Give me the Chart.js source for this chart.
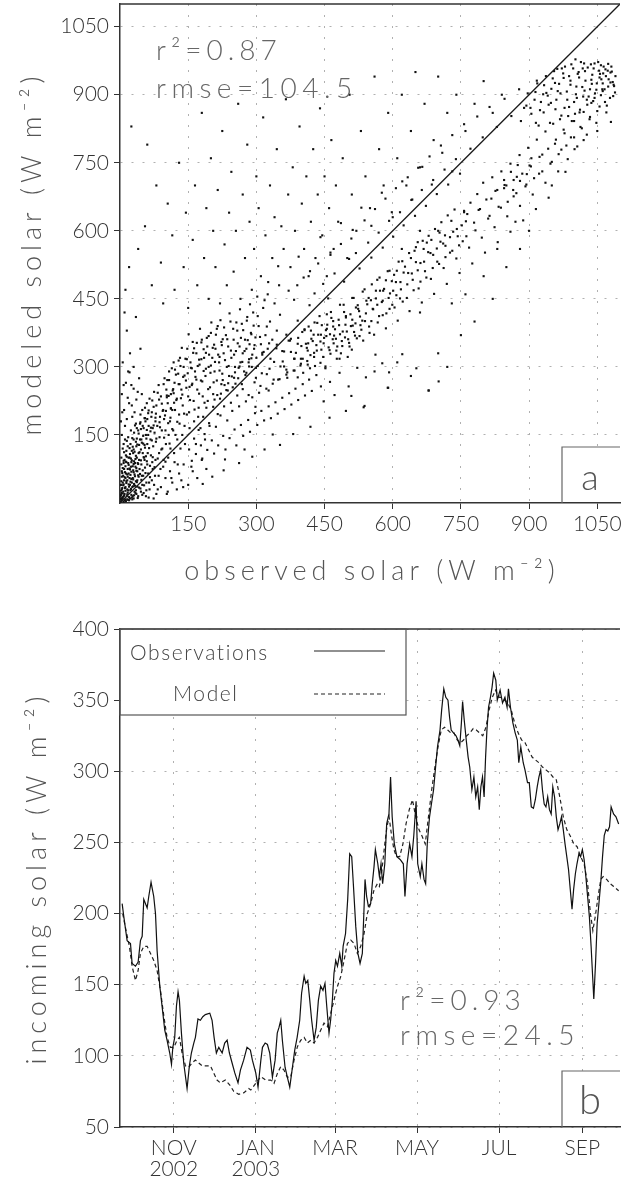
<!DOCTYPE html>
<html>
<head>
<meta charset="utf-8">
<script src="https://cdn.jsdelivr.net/npm/chart.js@4.4.0/dist/chart.umd.min.js"></script>
<style>
    html, body { margin: 0; padding: 0; background: #fff; }
    body { width: 627px; height: 1177px; position: relative; overflow: hidden; }
    #scatterChart { position: absolute; left: 0; top: 0; }
    #seriesChart { position: absolute; left: 0; top: 600px; }
</style>
</head>
<body>
<canvas id="scatterChart" width="627" height="600"></canvas>
<canvas id="seriesChart" width="627" height="577"></canvas>
<script>
// ---- panel a: observed vs modeled solar (W m-2), pairs [observed, modeled] ----
const solarTicks = [150, 300, 450, 600, 750, 900, 1050];
const solarMin = 0;
const solarMax = 1100;
const oneToOne = [0, 1100];

const originCluster = [
    [3,5],[5,12],[8,3],[10,20],[12,8],[4,30],[6,45],[15,15],[18,28],[20,6],[22,40],[25,18],[28,55],[30,10],[7,60],[9,75],
    [14,90],[16,50],[19,65],[24,80],[27,35],[32,25],[35,48],[38,70],[40,15],[42,95],[45,32],[48,60],[50,110],[52,22],[55,78],
    [58,45],[60,130],[3,100],[6,120],[11,140],[13,105],[17,125],[21,100],[26,115],[33,88],[36,125],[44,140],[47,85],[53,100],
    [57,150],[62,65],[65,30],[68,105],[70,50],[2,18],[4,70],[8,88],[12,55],[16,8],[23,62],[29,72],[31,42],[37,100],[41,58],
    [46,118],[49,40],[54,128],[59,92],[63,12],[66,82],[72,75],[75,40],[78,95],[80,20],[85,60],[90,35],[95,80],[100,55],
    [105,25],[110,70],[115,45],[120,90],[125,30],[130,65],[135,50],[140,85],[150,40],[160,70],[170,55],[180,95],[190,75],
    [2,40],[3,85],[4,150],[5,200],[6,10],[7,25],[8,130],[9,50],[10,95],[11,170],[12,35],[13,65],[14,115],[15,185],[16,30],
    [17,75],[18,145],[19,100],[20,220],[21,55],[22,10],[23,130],[24,160],[25,90],[26,45],[27,190],[28,15],[29,110],[30,68],
    [31,155],[32,200],[33,38],[34,80],[35,135],[36,20],[37,165],[38,50],[39,245],[41,110],[43,75],[44,175],[46,25],[47,140],
    [49,205],[51,60],[52,165],[54,95],[56,180],[57,15],[59,220],[61,110],[63,170],[64,45],[67,140],[69,190],[71,90],[73,125],
    [74,10],[76,155],[77,60],[79,135],[82,170],[83,30],[86,110],[87,145],[89,75],[92,160],[93,120],[96,95],[97,185],[101,130],
    [103,20],[106,100],[107,150],[111,120],[113,55],[117,160],[119,110],[121,205],[126,140],[127,85],[131,175],[133,120],
    [137,150],[139,35],[143,130],[147,195],[153,165],[157,80],[163,180],[167,130],[173,210],[177,165],[183,190],[187,140],
    [193,225],[197,170]
];

const denseLowLeft = [
    [1,3],[2,9],[3,22],[4,58],[5,33],[6,77],[7,14],[8,41],[9,112],[10,6],[11,68],[12,27],[13,91],[14,48],[15,137],[16,19],
    [17,58],[18,7],[19,84],[20,36],[21,121],[22,74],[23,28],[24,98],[25,53],[26,12],[27,143],[28,81],[29,37],[30,118],
    [31,92],[32,63],[33,171],[34,22],[35,104],[36,77],[37,46],[38,129],[39,11],[40,86],[41,153],[42,34],[43,112],[44,64],
    [45,178],[46,94],[47,51],[48,133],[49,18],[50,72],[51,148],[52,101],[53,39],[54,187],[55,122],[56,66],[57,103],[58,28],
    [59,161],[60,85],[62,198],[64,121],[66,57],[68,166],[70,138],[72,101],[74,212],[76,79],[78,188],[80,142],[83,98],
    [86,228],[88,167],[91,118],[94,203],[97,144],[100,91],[103,237],[106,176],[109,131],[112,208],[115,163],[118,242],
    [2,180],[4,240],[6,310],[9,205],[13,265],[17,232],[21,288],[26,215],[30,252],[36,228],[42,275],[48,240]
];

const originCore = [
    [1,14],[2,27],[3,48],[4,9],[5,66],[6,21],[7,39],[8,93],[9,16],[10,57],[11,33],[12,81],[13,4],[14,44],[15,102],[16,63],
    [17,23],[18,88],[19,41],[20,13],[21,76],[22,108],[23,47],[24,31],[25,69],[26,94],[27,8],[28,124],[29,52],[30,86],
    [31,17],[32,113],[33,59],[34,97],[35,28],[36,71],[37,142],[38,36],[39,88],[40,61]
];

const leftEdge = [[15,380],[10,420],[22,330],[18,290],[30,300],[45,340],[8,260],[25,260],[12,470],[35,410]];

const upperArm = [
    [30,140],[35,175],[40,160],[45,195],[50,170],[55,210],[60,185],[62,150],[65,230],[70,200],[72,165],[75,245],[78,180],
    [80,215],[85,260],[88,190],[90,235],[95,205],[98,275],[100,160],[102,250],[105,220],[108,290],[110,180],[112,240],
    [115,205],[118,310],[120,265],[122,150],[125,230],[128,285],[130,195],[132,320],[135,250],[138,215],[140,300],[142,170],
    [145,270],[148,340],[150,235],[152,200],[155,310],[158,260],[160,355],[162,225],[165,290],[168,330],[170,250],[172,190],
    [175,305],[178,270],[180,360],[182,235],[185,320],[188,280],[190,210],[192,345],[195,300],[198,255],[200,375],[203,320],
    [205,240],[208,290],[210,340],[213,270],[215,390],[218,310],[220,230],[223,355],[225,285],[228,330],[230,260],[233,370],
    [235,300],[238,345],[240,280],[243,400],[245,320],[248,255],[250,360],[253,300],[255,335],[258,380],[260,275],[263,345],
    [265,310],[268,395],[270,330],[273,290],[275,360],[278,340],[280,410],[283,310],[285,350],[288,375],[290,300],[293,420],
    [295,340],[298,365],[300,320],[305,390],[310,350],[315,430],[320,370],[325,340],[330,400],[335,360],[340,440],[345,380]
];

const denseUpperArm = [
    [101,203],[104,271],[107,236],[111,188],[114,297],[116,248],[119,221],[123,283],[126,179],[129,314],[131,262],[134,231],
    [136,342],[139,278],[141,197],[144,318],[146,254],[149,286],[151,372],[154,227],[156,298],[159,263],[161,331],[164,206],
    [166,278],[169,353],[171,302],[174,241],[176,384],[179,317],[181,268],[184,339],[186,221],[189,296],[191,364],[194,251],
    [196,327],[199,287],[201,398],[204,342],[206,266],[209,311],[211,371],[214,238],[216,327],[219,292],[221,403],[224,348],
    [226,271],[229,387],[231,315],[234,249],[236,361],[239,302],[241,418],[244,336],[246,279],[249,384],[251,327],[254,263],
    [256,398],[259,352],[261,298],[264,427],[266,364],[269,311],[271,381],[274,335],[276,282],[279,402],[281,359],[284,317],
    [286,438],[289,372],[291,327],[294,391],[296,348],[299,298],[303,412],[308,366],[313,331],[318,447],[323,389],[328,352]
];

const upperArmCore = [
    [42,128],[46,163],[51,131],[55,187],[58,142],[63,204],[67,158],[71,226],[74,171],[79,197],[83,243],[87,178],[92,219],
    [96,262],[99,193],[103,233],[108,271],[112,209],[117,251],[121,294],[124,227],[129,262],[133,302],[137,239],[142,281],
    [147,317],[153,256],[158,297],[163,341],[168,272],[174,316],[179,354],[184,291],[189,331],[195,368],[200,303],[207,349],
    [213,384],[219,322],[226,361]
];

const diagonalBand = [
    [152,118],[158,93],[163,142],[167,108],[173,161],[178,127],[181,98],[186,152],[192,117],[196,176],[202,138],[207,109],
    [211,168],[216,127],[221,193],[227,148],[232,118],[236,182],[241,143],[247,203],[252,162],[256,127],[262,213],[266,172],
    [271,148],[277,224],[282,183],[286,157],[291,233],[297,198],[302,172],[306,243],[311,203],[317,182],[322,252],[327,213],
    [332,187],[336,263],[342,222],[347,197],[351,273],[357,232],[362,207],[366,283],[372,242],[377,217],[382,292],[386,252],
    [392,227],[397,303],[402,262],[407,237],[412,313],[416,272],[422,247],[427,322],[432,282],[442,257],[452,297],[462,267],
    [472,238],[483,287],[503,257],[522,298],[541,277],[562,327],[577,308],[592,288],[621,328],[652,297],[679,248],[701,268],
    [182,42],[203,58],[228,72],[262,88],[291,102],[318,118],[352,128],[381,152],[419,168],[461,188],[497,203],[538,214],
    [231,96],[274,118],[336,151],[395,188],[448,224],[509,236],[589,254],[536,211]
];

const diagonalCore = [
    [208,228],[215,196],[223,262],[229,213],[237,248],[244,221],[251,276],[258,237],[263,301],[270,251],[278,287],[283,238],
    [289,319],[296,266],[303,302],[309,258],[316,333],[323,284],[331,318],[338,272],[345,349],[353,301],[361,334],[368,288],
    [376,362],[384,318],[391,351],[398,307],[406,381],[413,336]
];

const midDiagonal = [
    [352,415],[366,371],[383,448],[391,402],[404,497],[417,436],[428,462],[436,528],[447,483],[458,451],[463,547],[472,506],
    [486,571],[493,488],[504,538],[512,602],[519,551],[527,517],[538,623],[546,574],[553,541],[561,648],[569,596],[578,563],
    [584,671],[592,622],[601,587],[607,694],[616,641],[624,612],[633,718],[641,668],[649,633],[656,739],[664,690],[673,655],
    [681,764],[689,712],[697,681],[706,788],[714,735],[722,702],[731,811],[739,758],[748,726],[757,835],[771,781],[786,852],
    [798,806],[813,873],[829,829],[846,891],[861,853],[878,912],[894,876],[917,931],[938,904],[962,957]
];

const denseMid = [
    [205,212],[222,241],[238,264],[253,288],[268,262],[284,301],[299,276],[313,327],[329,296],[344,341],[358,312],[371,358],
    [387,331],[401,377],[414,352],[428,398],[442,371],[455,416],[469,389],[484,437],[497,409],[511,452],[524,428],[538,471],
    [552,447],[566,492],[579,468],[593,512],[607,487],[621,533],[634,507],[648,556],[661,529],[675,574],[689,547],[703,596],
    [716,567],[729,622],[743,588],[757,644],[302,455],[326,487],[348,522],[371,468],[393,543],[418,511],[441,586],[463,552],
    [486,617],[509,583],[531,651],[553,611],[576,684],[598,641],[621,709],[643,669],[665,741],[686,702],[709,772],[731,731]
];

const lowerArm = [
    [298,212],[312,286],[327,248],[339,311],[348,272],[357,335],[366,294],[374,358],[383,318],[391,277],[399,346],[406,383],
    [413,305],[421,362],[427,331],[434,397],[441,356],[447,322],[453,381],[459,343],[465,408],[471,369],[476,336],[482,392],
    [488,357],[493,421],[499,378],[505,345],[511,404],[517,369],[523,436],[529,392],[535,358],[541,418],[547,452],[553,401],
    [559,371],[566,437],[572,468],[578,414],[585,385],[591,452],[598,489],[604,431],[611,402],[618,471],[624,508],[631,452],
    [637,423],[644,492],[651,531],[657,473],[664,442],[671,511],[678,553],[684,494],[691,461],[698,532],[705,576],[712,518],
    [719,483],[726,552],[733,598],[740,539],[747,507],[754,577],[761,621],[768,563],[775,528],[782,601],[789,646],[796,585],
    [803,552],[810,627],[817,671],[824,608],[831,575],[838,651],[845,694],[852,632],[859,598],[866,676],[873,719],[880,655],
    [887,623],[894,702],[901,744],[908,680],[915,648],[922,726],[929,768],[936,706],[943,673],[950,752],[957,792],[964,731],
    [971,779],[978,815],[985,758],[992,806],[999,842],[1006,786],[1013,829],[1020,862],[1027,812],[1034,851],[1041,886],
    [1048,838],[1055,874],[1062,908],[1070,861],[1078,893],[1086,922]
];

const denseLowerArm = [
    [361,301],[368,276],[376,333],[384,292],[392,364],[398,318],[403,287],[409,351],[415,389],[419,326],[424,357],[429,302],
    [436,371],[439,412],[443,338],[449,364],[452,301],[456,393],[461,337],[464,421],[468,361],[473,383],[477,318],[481,404],
    [484,372],[489,346],[492,437],[496,393],[502,361],[507,416],[510,338],[514,452],[518,396],[521,363],[526,423],[531,382],
    [534,466],[539,401],[544,438],[549,375],[554,482],[557,427],[563,451],[567,398],[571,497],[576,443],[581,472],[586,418],
    [589,511],[594,462],[599,437],[603,503],[608,458],[613,532],[617,487],[622,444],[627,521],[632,482],[636,551],[642,506],
    [646,469],[651,564],[655,513],[661,488],[666,578],[669,532],[674,497],[679,589],[683,551],[688,518],[693,604],[697,561],
    [702,527],[707,619],[711,572],[716,542],[721,634],[726,586],[731,556],[736,647],[741,604],[746,568],[752,612],[757,641],
    [762,588]
];

const lowerArmCore = [
    [462,372],[478,345],[495,365],[508,390],[486,330],[470,352],[501,322],[515,377],[528,411],[454,368],[444,392],[432,348],
    [420,380],[640,540],[655,575],[668,560],[685,580],[660,600],[700,600],[715,590],[620,560],[850,700],[865,690],[880,710],
    [895,725],[860,730],[845,712],[905,760],[875,745],[830,690],
    [402,318],[411,342],[418,297],[426,371],[433,336],[441,309],[448,352],[455,384],[463,329],[469,401],[475,362],[483,318],
    [490,378],[497,412],[504,353],[512,391],[519,431],[527,368],[533,402],[542,446],[548,389],[556,428],[563,468],[570,412],
    [578,446],[585,491],[593,428],[601,468],[609,512],[616,451]
];

const highCluster = [
    [882,842],[889,871],[897,903],[905,858],[912,889],[918,925],[924,866],[931,901],[937,941],[943,878],[949,913],[955,952],
    [960,889],[966,924],[972,958],[978,871],[983,907],[988,941],[993,967],[999,884],[1004,918],[1009,950],[1014,972],
    [1019,896],[1024,931],[1029,960],[1034,912],[1039,944],[1044,969],[1049,925],[1054,953],[1059,934],[1064,962],
    [1069,941],[1074,918],[1079,949],[1084,928],[1089,905],[986,853],[1012,867],[1037,882],[1058,899],[1071,876],[946,838],
    [968,846],[921,832],[1001,858],[1027,889],[1045,903],[1066,912],
    [903,871],[914,906],[926,884],[933,921],[941,898],[952,936],[958,868],[969,903],[975,947],[984,889],[991,931],[997,958],
    [1003,901],[1010,938],[1017,917],[1023,952],[1031,896],[1037,933],[1042,958],[1048,911],[1056,946],[1062,925],[1068,956],
    [1075,934],[1082,951],[1087,919],[957,926],[979,962],[1021,969],[1058,965]
];

const denseHigh = [
    [764,637],[771,662],[779,618],[786,681],[792,648],[799,706],[806,669],[813,633],[819,718],[826,688],[833,653],[839,731],
    [846,701],[853,664],[859,748],[866,712],[872,683],[879,767],[885,726],[892,698],[898,783],[904,742],[911,716],[917,801],
    [923,763],[929,731],[936,819],[942,781],[947,748],[953,836],[959,801],[965,769],[971,854],[976,823],[982,788],[988,873],
    [994,842],[999,806],[1005,893],[1011,861],[1016,826],[1022,909],[1028,878],[1033,846],[1038,924],[1044,893],[1050,864],
    [1055,938],[1061,912],[1067,884],[1073,953],[1079,927],[1085,897],[1090,941],[963,908],[976,937],[991,922],[1007,946],
    [1018,958],[1036,967],[1052,972],[1063,947],[1081,962],[948,882],[932,861],[915,838],[1002,978],[1074,968]
];

const upperScatter = [
    [25,830],[60,790],[80,700],[20,520],[40,560],[55,610],[70,480],[90,530],[95,440],[105,660],[115,590],[120,470],[130,750],
    [140,520],[145,640],[150,430],[160,580],[165,700],[170,480],[180,860],[185,540],[190,650],[195,450],[200,760],[205,600],
    [210,520],[215,690],[220,440],[225,820],[230,570],[235,480],[240,640],[245,730],[250,510],[255,600],[260,880],[265,450],
    [270,680],[275,540],[280,790],[285,620],[290,470],[295,560],[300,720],[305,650],[310,500],[315,850],[320,590],[325,460],
    [330,700],[335,540],[340,630],[345,780],[350,480],[355,610],[360,560],[365,890],[370,680],[375,520],[380,740],[385,600],
    [390,480],[395,830],[400,660],[405,560],[410,720],[415,500],[420,620],[425,780],[430,540],[435,680],[440,870],[445,590],
    [450,720],[455,500],[460,650],[465,800],[470,560],[475,700],[480,620],[490,760],[500,540],[505,900],[510,680],[520,600],
    [530,820],[540,720],[550,650],[560,940],[570,780],[580,700],[590,860],[600,630],[610,760],[620,900],[630,700],[640,820],
    [650,950],[660,740],[670,880],[690,800],[700,940],[720,860],[740,900],[760,820],[780,880],[800,930],[820,860],[840,900]
];

const lowerScatter = [
    [560,290],[590,254],[610,310],[640,280],[679,248],[700,330],[720,300],[750,370],[780,400],[820,450],[760,460],[850,520],
    [880,560],[900,600],[950,700],[980,730],[1000,780],[1020,800],[1050,820],[1080,840],[660,420],[730,440],[800,500],
    [830,560],[870,620]
];

// ---- panel b: daily incoming solar (W m-2); day 0 = 1 Nov 2002 ----
const dayMin = -40;
const dayMax = 332;
const monthTickDays = [0, 61, 120, 181, 242, 304];
const monthTickLabels = [['NOV', '2002'], ['JAN', '2003'], 'MAR', 'MAY', 'JUL', 'SEP'];
const seriesYTicks = [50, 100, 150, 200, 250, 300, 350, 400];

const obsDay = [
    -38.4,-37.2,-34.7,-32.2,-31,-28.5,-26.5,-24.8,-23.5,-22.3,-19.8,-18.6,-16.9,-14.9,-13.6,-12.4,-10.4,-8.7,-6.7,-5,
    -3,-1.7,-0.7,0.7,2,3.2,4.2,5.7,7.4,9.9,11.6,13.1,14.9,16.1,18,19.8,21.6,23.5,26.8,28.5,
    30,31.7,33.5,36,37.9,39.7,41.4,43.4,45.4,47.8,49.6,52,54.5,57,58.5,61,62.7,64.8,66,68,
    69.7,71.4,73.4,75.4,77,78.3,79.6,80.8,82.8,84.5,86.3,88.3,90,91.8,93.7,95.1,97,98.2,99.7,101.2,
    102.6,104.4,106,107.6,109.3,111,112.5,113.8,115.5,116.7,118,119.2,120.5,121.8,123.5,125,126,127.8,129.4,130.9,
    132.4,133.6,135.4,137,138.6,140.3,141.5,142.3,143.5,144.8,146.5,147.7,149,150,151.8,153,154.2,155.4,157,158.4,
    160.1,161.3,162.5,164.1,166,168.4,170.8,172,173.6,175.5,177.2,178.6,180.3,181.5,183.4,184.6,186.2,187.4,188.6,190.3,
    191.7,193.3,194.8,196.2,198.1,199.3,200.9,202.4,204,205.2,206.4,208.1,210,211.4,212.8,214,214.9,216.1,217.6,219,
    220.2,221.8,223.3,224.7,226.1,227.3,228.5,229.7,230.9,232,233,234.2,235.6,236.8,238,239.6,240.7,242.8,244.6,246.4,
    248,249,250.5,252.3,254,255.6,256.7,258.2,260,261.3,263.2,264.5,266,267.6,269,270.4,271.7,273,274.3,275.6,
    276.9,278.2,279.5,280.8,282,283.3,284.6,285.9,287.2,288.5,289.8,291.1,292.4,293.7,295,296.3,297.5,298.8,300,301.4,
    302.7,304,305.3,306.6,307.9,309.2,310.5,311.8,312.5,313.8,315,316.4,317.7,319,320.3,321.6,322.9,324.2,325.4,327.2,
    329,331
];
const obsVal = [
    207,198,181,179,165,163,166,181,184,210,204,212,222,212,200,174,149,135,118,111,
    102,94,106,113,135,145,139,116,95,77,93,102,109,113,126,125,127.5,129,130,125,
    113,102,106,102,109,111,102,95,88,81,90,97,106,104,97,88,78,97,106,109,
    108,102,85,97,116,120,125,111,92,85,78,92,104,113,125,144,156,151,153,139,
    125,111,120,139,149,146,151,135,116,125,139,158,167,163,172,163,177,186,210,242,
    240,221,191,172,165,172,202,224,212,205,207,221,233,245,235,226,235,221,235,263,
    270,296,268,249,240,238,235,212,235,249,240,255,279,235,226,235,224,221,249,268,
    277,287,303,317,329,343,358,352,350,338,329,327,325,322,318,334,349,336,322,310,
    303,287,296,282,289,273,289,296,282,310,329,345,352,359,369,364,350,357,348,352,
    345,358,345,334,327,322,306,317,306,301,292,292,275,274,280,289,296,301,287,277,
    275,282,273,270,289,282,268,259,263,268,259,249,240,231,217,203,217,228,235,242,
    240,245,238,226,212,198,177,153,140,165,193,208,222,240,255,259,258,261,275,270,
    268,263
];

const modDay = [
    -38,-35.5,-33,-31,-28.5,-26.5,-24.8,-22.3,-19.8,-17.3,-14.9,-12.4,-9.9,-7.4,-5,-2.5,0,2.5,4.2,6.2,
    8.7,11.2,13.6,16.1,18.6,21.1,23.5,27.3,29.7,32.2,34.7,38.4,42.1,44.6,48.3,52,55.8,57.3,61,64.7,
    68.4,72.2,74.6,77.1,79.6,82,84.5,87,89.5,92,94.5,97,99.4,102,104.4,106.9,109.3,111.8,114.3,116.8,
    119.2,121.7,124.2,126.7,129.2,131.7,134.1,136.6,139.1,141.6,144,146.5,149,151.5,153,154.9,156.9,158.6,160.2,162.1,
    163.8,165.7,168.1,170.5,172.8,175.2,177.6,180,182.4,184.7,187.1,189.5,191.9,194.3,196.6,199,201.4,203.8,206.1,208.5,
    210.9,213.3,215.6,218,220.4,222.8,225.1,227.5,229.9,232.3,234.6,237,239.4,241.8,243.3,245.9,248.5,251.1,253.6,256.2,
    258.8,261.4,264,266.6,269.1,271.7,274.3,276.9,279.5,282.1,284.6,287.2,289.8,292.4,295,297.6,300.1,302.7,305.3,307.9,
    310,311.8,313.6,315.7,317.7,319.5,322.1,324.7,327.3,331
];
const modVal = [
    200,188,177,163,153,160,172,177,177,172,167,160,146,128,113,106,106,111,113,102,
    93,92,95,97,95,93,93,93,88,83,81,83,79,75,73,74,77,76,80.7,85.4,
    83,83,80.7,87.7,92.4,90,85,85,97,106.5,111,113,109,111,109,113,118,123,120.5,130,
    139,148.6,155.7,167,179,181.4,179,172,177,186,200,207,216.6,221,219,231,248,261,268,254.5,
    245,240,240,249,263,273,280,268,259,254.5,249,268,287,303,317,329,331,329,327,327,
    322,320,322,325,327,330,329,327,325,331,343,352,357,352,352,350,348,343,334,327,
    322,320,315,310,308,306,303,301,299,296,294,282,268,259,254.5,249,247,240,235,221,
    200,188,198,212,224,226,224,221,219,216
];

// ---- styling ----
const textFamily = 'Lato, "Open Sans", sans-serif';
const tickFont = { family: textFamily, size: 21, weight: 300 };
const gridColor = '#b0b0b0';
const axisColor = '#333';

function drawText(ctx, text, x, y, size, color, spacing, align, angle) {
    ctx.save();
    ctx.font = `300 ${size}px ${textFamily}`;
    ctx.fillStyle = color;
    ctx.letterSpacing = spacing + 'px';
    ctx.textAlign = align || 'left';
    ctx.textBaseline = 'alphabetic';
    ctx.translate(x, y);
    if (angle) ctx.rotate(angle);
    ctx.fillText(text, 0, 0);
    ctx.restore();
}

function topBorder(ctx, area) {
    ctx.save();
    ctx.strokeStyle = axisColor;
    ctx.lineWidth = 1.5;
    ctx.beginPath();
    ctx.moveTo(area.left, area.top);
    ctx.lineTo(area.right, area.top);
    ctx.stroke();
    ctx.restore();
}

function letterBox(ctx, area, letter, size) {
    const left = area.right - 58, top = area.bottom - 56;
    ctx.save();
    ctx.fillStyle = '#fff';
    ctx.fillRect(left, top, area.right - left, area.bottom - top - 1);
    ctx.strokeStyle = '#666';
    ctx.lineWidth = 1.2;
    ctx.beginPath();
    ctx.moveTo(left, area.bottom);
    ctx.lineTo(left, top);
    ctx.lineTo(area.right, top);
    ctx.stroke();
    ctx.restore();
    drawText(ctx, letter, left + 28, area.bottom - 13, size, '#555', 0, 'center');
}

function linearAxis(min, max, tickValues, fitSize, vertical, labelFn) {
    return {
        type: 'linear',
        min: min,
        max: max,
        afterBuildTicks: scale => { scale.ticks = tickValues.map(v => ({ value: v })); },
        afterFit: scale => {
            if (vertical) scale.width = fitSize; else scale.height = fitSize;
            scale.paddingTop = 0; scale.paddingBottom = 0;
            scale.paddingLeft = 0; scale.paddingRight = 0;
        },
        ticks: {
            font: vertical ? tickFont : Object.assign({ lineHeight: 0.98 }, tickFont),
            color: '#333',
            padding: 5,
            maxRotation: 0,
            autoSkip: false,
            callback: labelFn || (v => String(v))
        },
        grid: { color: gridColor, tickColor: axisColor, tickLength: 6, lineWidth: 1 },
        border: { color: axisColor, width: 1.5, dash: [2, 9] }
    };
}

// ---- panel a ----
const panelA = {
    id: 'panelA',
    afterDraw(chart) {
        const { ctx, chartArea: area } = chart;
        topBorder(ctx, area);
        letterBox(ctx, area, 'a', 36);
        drawText(ctx, 'r\u00b2=0.87', 156, 60, 28, '#666', 5);
        drawText(ctx, 'rmse=104.5', 156, 98, 28, '#666', 5.5);
        drawText(ctx, 'observed solar (W m\u207b\u00b2)', (area.left + area.right) / 2 + 2, 580, 27, '#555', 5, 'center');
        drawText(ctx, 'modeled solar (W m\u207b\u00b2)', 41, (area.top + area.bottom) / 2, 27, '#555', 5, 'center', -Math.PI / 2);
    }
};

const scatterPoints = [].concat(originCluster, denseLowLeft, originCore, leftEdge, upperArm, denseUpperArm, upperArmCore,
    diagonalBand, diagonalCore, midDiagonal, denseMid, lowerArm, denseLowerArm, lowerArmCore, highCluster, denseHigh,
    upperScatter, lowerScatter);

new Chart(document.getElementById('scatterChart'), {
    type: 'scatter',
    data: {
        datasets: [{
            data: oneToOne.map(v => ({ x: v, y: v })),
            showLine: true,
            borderColor: '#1a1a1a',
            borderWidth: 1.3,
            pointRadius: 0
        }, {
            data: scatterPoints.map(p => ({ x: p[0], y: p[1] })),
            pointStyle: 'rect',
            pointRadius: 1.5,
            backgroundColor: '#111',
            borderWidth: 0
        }]
    },
    options: {
        responsive: false,
        animation: false,
        devicePixelRatio: 1,
        layout: { padding: { top: 3, right: 7, left: 0, bottom: 0 } },
        plugins: { legend: { display: false }, tooltip: { enabled: false } },
        scales: {
            x: linearAxis(solarMin, solarMax, solarTicks, 97, false),
            y: linearAxis(solarMin, solarMax, solarTicks, 120, true)
        }
    },
    plugins: [panelA]
});

// ---- panel b ----
const panelB = {
    id: 'panelB',
    afterDraw(chart) {
        const { ctx, chartArea: area } = chart;
        topBorder(ctx, area);
        // legend box
        const legRight = 406, legBottom = area.top + 86;
        ctx.save();
        ctx.fillStyle = '#fff';
        ctx.fillRect(area.left + 1, area.top + 1, legRight - area.left - 1, legBottom - area.top - 1);
        ctx.strokeStyle = '#555';
        ctx.lineWidth = 1.2;
        ctx.strokeRect(area.left, area.top, legRight - area.left, legBottom - area.top);
        ctx.strokeStyle = '#222';
        ctx.lineWidth = 1.2;
        ctx.beginPath();
        ctx.moveTo(314, area.top + 22); ctx.lineTo(385, area.top + 22);
        ctx.stroke();
        ctx.setLineDash([4, 3]);
        ctx.beginPath();
        ctx.moveTo(314, area.top + 65); ctx.lineTo(385, area.top + 65);
        ctx.stroke();
        ctx.restore();
        drawText(ctx, 'Observations', 130, area.top + 31, 21, '#444', 1.6);
        drawText(ctx, 'Model', 173, area.top + 72, 21, '#444', 1.6);

        letterBox(ctx, area, 'b', 40);
        drawText(ctx, 'r\u00b2=0.93', 400, 410, 28, '#666', 5);
        drawText(ctx, 'rmse=24.5', 400, 445, 28, '#666', 5.5);
        drawText(ctx, 'incoming solar (W m\u207b\u00b2)', 46, (area.top + area.bottom) / 2, 27, '#555', 5, 'center', -Math.PI / 2);
    }
};

new Chart(document.getElementById('seriesChart'), {
    type: 'scatter',
    data: {
        datasets: [{
            label: 'Observations',
            data: obsDay.map((d, i) => ({ x: d, y: obsVal[i] })),
            showLine: true,
            borderColor: '#111',
            borderWidth: 1.2,
            pointRadius: 0
        }, {
            label: 'Model',
            data: modDay.map((d, i) => ({ x: d, y: modVal[i] })),
            showLine: true,
            borderColor: '#222',
            borderWidth: 1.2,
            borderDash: [4, 3],
            pointRadius: 0
        }]
    },
    options: {
        responsive: false,
        animation: false,
        devicePixelRatio: 1,
        layout: { padding: { top: 29, right: 7, left: 0, bottom: 0 } },
        plugins: { legend: { display: false }, tooltip: { enabled: false } },
        scales: {
            x: linearAxis(dayMin, dayMax, monthTickDays, 50, false, (v, i) => monthTickLabels[i]),
            y: linearAxis(50, 400, seriesYTicks, 120, true)
        }
    },
    plugins: [panelB]
});
</script>
</body>
</html>
